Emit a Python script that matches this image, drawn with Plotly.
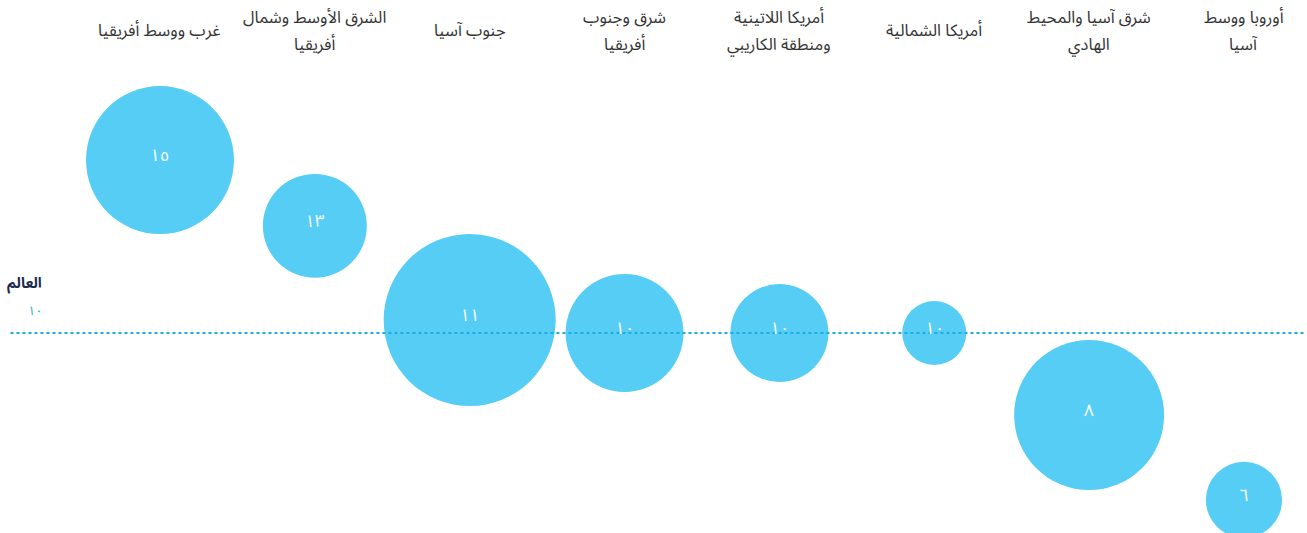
import plotly.graph_objects as go

regions = [
    "غرب ووسط أفريقيا",
    "الشرق الأوسط وشمال أفريقيا",
    "جنوب آسيا",
    "شرق وجنوب أفريقيا",
    "أمريكا اللاتينية ومنطقة الكاريبي",
    "أمريكا الشمالية",
    "شرق آسيا والمحيط الهادي",
    "أوروبا ووسط آسيا",
]
region_labels = [
    "غرب ووسط أفريقيا",
    "الشرق الأوسط وشمال<br>أفريقيا",
    "جنوب آسيا",
    "شرق وجنوب<br>أفريقيا",
    "أمريكا اللاتينية<br>ومنطقة الكاريبي",
    "أمريكا الشمالية",
    "شرق آسيا والمحيط<br>الهادي",
    "أوروبا ووسط<br>آسيا",
]
values = [14.55, 12.82, 10.34, 10.0, 10.0, 10.0, 7.84, 5.61]
value_labels = ["١٥", "١٣", "١١", "١٠", "١٠", "١٠", "٨", "٦"]
weights = [219, 108, 296, 139, 96, 41, 225, 58]
world_value = 10.0
world_value_label = "١٠"
world_label = "العالم"

FONT = "Noto Sans Arabic, Noto Naskh Arabic, DejaVu Sans, sans-serif"
BUBBLE = "#56CDF4"
LINE = "#1CABE2"
H = 533

fig = go.Figure()
fig.add_trace(go.Scatter(
    x=regions, y=values, mode="markers",
    marker=dict(size=weights, sizemode="area", sizeref=0.02, color=BUBBLE,
                line=dict(width=0), opacity=1),
    hoverinfo="skip", showlegend=False, cliponaxis=False,
))

fig.add_shape(type="line", xref="paper", yref="y", x0=0.008, x1=0.999,
              y0=world_value, y1=world_value,
              line=dict(color=LINE, width=2, dash="dot"), layer="above")

for r, v, t in zip(regions, values, value_labels):
    fig.add_annotation(x=r, y=v, text=t, showarrow=False, yshift=4,
                       font=dict(size=17, color="white", family=FONT),
                       xanchor="center", yanchor="middle")

for r, lab in zip(regions, region_labels):
    lines = lab.split("<br>")
    ys = [30] if len(lines) == 1 else [18, 45]
    for line, py in zip(lines, ys):
        fig.add_annotation(x=r, y=1 - py / H, yref="paper", text=line, showarrow=False,
                           font=dict(size=16.5, color="#333333", family=FONT),
                           xanchor="center", yanchor="middle", align="center")

fig.add_annotation(x=0.034, xref="paper", y=1 - 283 / H, yref="paper",
                   text="<b>" + world_label + "</b>", showarrow=False,
                   font=dict(size=14.5, color="#1b2a4a", family=FONT),
                   xanchor="right", yanchor="middle")
fig.add_annotation(x=0.034, xref="paper", y=1 - 311 / H, yref="paper",
                   text=world_value_label, showarrow=False,
                   font=dict(size=12.5, color=LINE, family=FONT),
                   xanchor="right", yanchor="middle")

fig.update_layout(
    width=1307, height=H,
    margin=dict(l=0, r=0, t=0, b=0),
    paper_bgcolor="white", plot_bgcolor="white",
    xaxis=dict(type="category", categoryorder="array", categoryarray=regions,
               range=[-1.033, 7.407], visible=False, fixedrange=True),
    yaxis=dict(range=[4.737, 18.763], visible=False, fixedrange=True),
)

fig.write_html("out.html")
